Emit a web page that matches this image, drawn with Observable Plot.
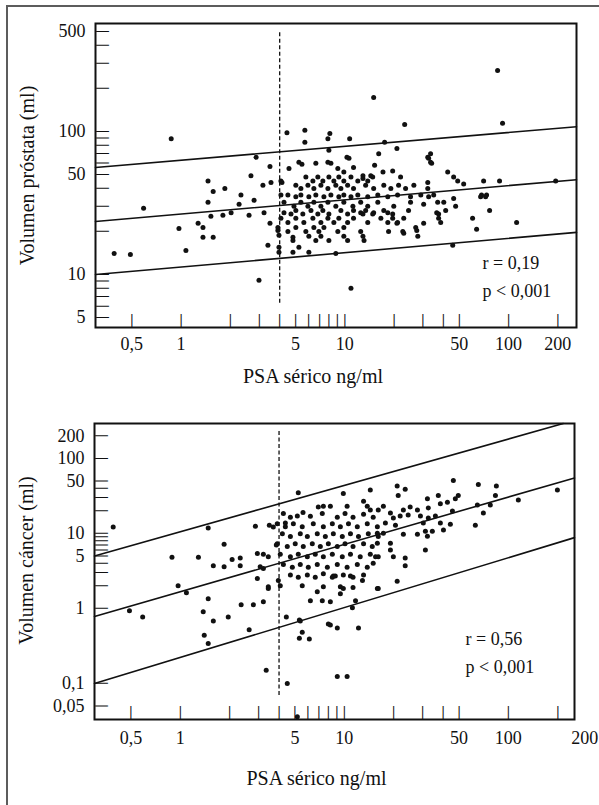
<!DOCTYPE html>
<html><head><meta charset="utf-8">
<script src="https://cdn.jsdelivr.net/npm/d3@7"></script>
<script src="https://cdn.jsdelivr.net/npm/@observablehq/plot@0.6"></script>
<style>
body{margin:0;background:#fff;}
#wrap{position:relative;width:599px;height:805px;overflow:hidden;font-family:"Liberation Serif","DejaVu Serif",serif;}
#wrap svg{position:absolute;left:0;}
#border{position:absolute;left:6px;top:5px;right:-10px;bottom:-10px;border-left:2px solid #5c5c5c;border-top:2px solid #5c5c5c;pointer-events:none;}
</style></head><body><div id="wrap"><div id="border"></div></div>
<script>
// ---------- shared x axis (PSA) ----------
const psaMinor = [0.5, 1, 2, 3, 4, 5, 6, 7, 8, 9, 10, 20, 30, 40, 50, 100, 200];
const psaLabelsTop = [0.5, 1, 5, 10, 50, 100, 200];
const psaLabelsBottom = [0.5, 1, 5, 10, 50, 100];
const psaLabelShifted = [200];
const psaCutoff = 4;
const xTitle = "PSA sérico ng/ml";

// ---------- top panel: prostate volume ----------
const prostMinor = [5, 6, 7, 8, 9, 10, 20, 30, 40, 50, 60, 70, 80, 90, 100, 200, 300, 400, 500];
const prostLabels = [5, 10, 50, 100, 500];
const prostTitle = "Volumen próstata (ml)";
const prostStats = ["r = 0,19\np < 0,001"];
const prostCutoffRange = [6.3, 500];
const prostFit = [
  {band: "sup", psa: 0.3, vol: 56}, {band: "sup", psa: 260, vol: 108},
  {band: "mid", psa: 0.3, vol: 23.5}, {band: "mid", psa: 260, vol: 46},
  {band: "inf", psa: 0.3, vol: 10}, {band: "inf", psa: 260, vol: 19.7}
];
const prostPoints = [
  [0.87,89],[4.43,98],[2.87,66],[3.49,57],[2.67,49],[1.46,45],[1.57,38],[1.85,40],[2.32,36],[4.56,55],[4.13,44],[3.54,44],[3.16,42],
  [85.7,267],[15.0,173],[23.2,112],[91.9,114],[5.70,102],[5.70,84],[8.10,97],[7.88,89],[10.7,89],[7.99,74],[16.1,70],[20.8,76],[17.5,84],
  [33.4,70],[32.5,65],[33.9,60],[42.5,52],[46.2,48],[48.9,45],[53.2,43],[70.4,45],[88.1,45],[194,45],[32.1,44],[68.4,36],[73.4,36],[46.2,34],
  [60.3,24.7],[63.8,20.7],[76.6,28],[112,23.1],[67.5,35],[72.4,35],[45.6,16.0],[10.9,8.0],[8.81,14.0],[30.3,22.8],[30.3,31],[36.4,27],
  [41.3,28],[40.2,32],[24.5,28],[22.9,24.7],[27.5,20.3],[27.9,18.5],[22.9,19.4],[18.5,20.0],[20.8,22.8],[12.5,27],[13.1,17.3],[18.3,27],[15.0,27],
  [0.39,14.0],[0.49,13.8],[0.59,29],[0.97,21.0],[1.07,14.7],[1.27,22.8],[1.36,21.3],[1.36,18.2],[1.57,18.2],[1.46,32],[1.52,25.5],[1.80,26],
  [2.02,27],[2.26,31],[2.60,26],[2.99,9.1],[3.39,16.0],[3.49,22.8],[3.96,15.5],[2.79,33],[3.21,27],[4.82,14.3],[3.90,20.3],[3.96,18.8],[4.82,18.2],[4.25,27],
  [4.07,45],[4.07,36],[4.49,36],[5.24,61],[5.47,59],[6.65,60],[7.88,61],[8.22,60],[10.3,66],[10.6,65],[9.06,55],[11.3,56],[9.86,52],[12.9,49],
  [14.4,49],[15.2,58],[17.1,52],[19.6,53],[21.9,48],[32.1,66],[33.4,61],
  [5.78,48],[6.38,45],[6.84,48],[7.34,45],[7.99,48],[8.57,45],[9.19,48],[9.86,45],[10.9,48],[12.0,45],[12.9,47],[13.8,45],[14.8,48],
  [5.02,42],[5.39,40],[5.95,42],[6.47,40],[7.14,42],[7.88,40],[8.81,42],[9.46,40],[10.4,42],[11.3,40],[13.4,42],[15.0,40],[17.3,42],[19.1,40],[21.3,42],[23.5,40],[26.4,42],[32.1,40],
  [5.02,35],[5.39,36],[6.03,35],[6.65,36],[7.45,35],[8.22,36],[9.19,35],[9.86,36],[10.9,35],[12.0,36],[13.8,35],[15.9,36],[18.3,35],[21.0,36],[25.2,35],[29.1,36],[32.5,35],[34.9,36],
  [4.25,32],[4.89,30],[5.39,32],[5.95,30],[6.47,32],[7.14,30],[7.88,32],[8.81,30],[9.86,32],[11.2,30],[12.5,32],[13.8,30],[15.9,32],[19.9,30],[25.2,32],[36.9,32],[47.5,30],
  [4.69,26.5],[5.02,28],[5.54,26.5],[6.21,28],[6.84,26.5],[7.34,28],[7.99,26.5],[9.46,28],[10.4,26.5],[11.3,28],[12.9,26.5],[13.4,28],[14.8,26.5],[17.3,28],[19.6,26.5],[37.4,26.5],
  [4.07,24.7],[4.49,23.1],[5.02,24.7],[5.62,23.1],[6.38,24.7],[7.14,23.1],[7.88,24.7],[8.57,23.1],[9.19,24.7],[10.4,23.1],[11.3,24.7],[13.8,23.1],[16.6,24.7],[18.3,23.1],[19.6,24.7],[21.0,23.1],[37.4,24.7],[38.5,23.1],
  [3.90,21.3],[4.49,20],[5.02,21.3],[5.78,20],[6.47,21.3],[6.94,20],[7.45,21.3],[9.06,20],[9.86,21.3],[12.5,20],[22.6,20],[27.1,21.3],
  [4.82,17.3],[6.03,18.5],[6.65,17.3],[7.14,18.5],[7.99,17.3],[9.86,18.5],[10.4,17.3],[12.9,18.5],
  [3.96,14.3],[5.24,15.5],[6.03,14.3]
];

// ---------- bottom panel: cancer volume ----------
const cancerMinor = [0.05, 0.1, 1, 2, 3, 4, 5, 6, 7, 8, 9, 10, 20, 30, 40, 50, 100, 200];
const cancerLabels = [0.05, 0.1, 1, 5, 10, 50, 100, 200];
const cancerTitle = "Volumen cáncer (ml)";
const cancerStats = ["r = 0,56\np < 0,001"];
const cancerCutoffRange = [0.069, 236];
const cancerFit = [
  {band: "sup", psa: 0.3, vol: 5}, {band: "sup", psa: 216, vol: 293},
  {band: "mid", psa: 0.3, vol: 0.78}, {band: "mid", psa: 253, vol: 55},
  {band: "inf", psa: 0.3, vol: 0.1}, {band: "inf", psa: 253, vol: 8.8}
];
const cancerPoints = [
  [0.39,12.2],[0.89,4.8],[1.29,4.8],[1.48,11.8],[1.85,7.2],[2.87,12.5],[3.49,12.9],[3.69,12.2],[1.59,3.7],[1.85,3.6],[2.07,4.5],[2.32,4.7],
  [2.32,3.7],[2.95,5.4],[3.21,5.3],[3.44,4.9],[3.21,3.4],[3.85,7.0],[5.24,35],
  [0.49,0.93],[0.59,0.77],[0.97,2.0],[1.09,1.62],[1.48,1.35],[1.38,0.90],[1.59,0.68],[1.40,0.44],[1.48,0.34],[1.96,0.77],[2.35,1.12],[2.79,1.12],
  [3.21,1.23],[2.63,0.52],[3.34,0.15],[4.49,0.10],[4.43,0.77],[2.95,2.5],[3.44,1.95],[3.07,3.6],
  [9.86,34],[14.4,38],[5.17,17.1],[6.94,22.6],[7.45,23],[8.22,23],[10.4,23],[13.1,27],[13.8,23],[4.37,13.8],[3.44,1.84],[9.06,0.124],[10.4,0.124],
  [5.32,0.70],[5.54,0.48],[5.32,0.40],[6.12,0.39],[8.22,0.60],[9.06,0.55],[12.2,0.55],[6.21,1.27],[7.34,1.27],[8.22,1.23],[9.46,1.95],[11.3,1.9],
  [6.84,1.67],[11.7,1.27],[11.2,1.02],[12.9,2.35],[15.9,1.84],[8.81,2.7],[5.54,2.0],[7.45,1.95],[4.07,2.0],[3.96,2.35],
  [46.2,51],[65.6,45],[84.5,43],[199,38],[21.0,43],[23.5,39],[21.3,32],[37.4,32],[32.1,29],[49.5,32],[47.5,29],[83.4,32],[115,28],[42.5,26],
  [38.5,25],[25.2,22.6],[22.9,20.6],[27.9,20.6],[32.5,21.9],[64.7,24],[77.6,24],[17.3,23],[16.1,20.6],[14.4,20.6],[19.1,18.8],[19.9,16.1],
  [21.9,17.1],[24.5,17.6],[29.1,17.1],[32.5,16.1],[35.9,17.1],[45.6,20],[70.4,18.8],[17.8,13.8],[20.5,12.9],[30.3,13.8],[38.5,13.8],[44.3,13.3],
  [62.9,12.9],[17.3,10.1],[15.9,10.1],[22.9,9.8],[27.9,9.8],[31.2,10.7],[34.4,10.7],[40.2,11.1],[32.1,9.2],[19.1,7.4],[31.2,6.0],[15.9,7.4],
  [19.1,6.0],[19.9,4.9],[23.5,4.7],[23.5,3.7],[21.0,2.3],[16.1,1.84],[15.5,4.9],[15.0,4.0],
  [9.86,1.84],[10.9,2.7],[7.45,2.9],[8.57,2.7],[9.46,1.57],[7.99,0.62],[5.39,0.68],[5.17,0.036],
  [4.25,18.5],[4.69,16.5],[5.6,19],[6.21,17],[7.34,18.5],[9.06,16.5],[10.1,18.5],[11.3,16.5],[13.1,18],[15.0,16.5],
  [3.90,13.5],[4.37,12.3],[4.89,13.5],[5.54,12.3],[6.47,13.5],[7.45,12.3],[8.45,13.5],[9.46,12.3],[10.6,13.5],[12.0,12.3],[13.8,13.5],[15.9,12.3],
  [4.19,9.9],[4.69,9.1],[5.39,9.9],[5.95,9.1],[6.84,9.9],[7.66,9.1],[8.57,9.9],[9.72,9.1],[10.9,9.9],[12.2,9.1],[14.0,9.9],[16.1,9.1],
  [3.90,7.3],[4.49,6.7],[5.02,7.3],[5.62,6.7],[6.38,7.3],[7.14,6.7],[7.99,7.3],[9.06,6.7],[10.1,7.3],[11.3,6.7],[13.1,7.3],[14.8,6.7],
  [4.07,5.3],[4.69,4.9],[5.24,5.3],[5.95,4.9],[6.65,5.3],[7.45,4.9],[8.45,5.3],[9.72,4.9],[10.9,5.3],[12.5,4.9],[14.4,5.3],[16.1,4.9],
  [4.25,3.85],[4.82,3.55],[5.39,3.85],[6.03,3.55],[6.84,3.85],[7.88,3.55],[9.06,3.85],[10.4,3.55],[12.0,3.85],[13.8,3.55],
  [4.69,2.8],[5.24,2.6],[5.95,2.8],[6.65,2.6],[8.45,2.6],[9.86,2.8],[11.3,2.6],[13.1,2.8]
];

const fmt = d => String(d).replace(".", ",");
const FONT = "'Liberation Serif', 'DejaVu Serif', serif";
const INK = "#111";
// inward tick marks are drawn as a bar glyph (about 13 px tall at this size)
const TICK_GLYPH = "|";
const TICK_SIZE = 14.5;

function panel(o) {
  const marks = [
    Plot.ruleX([psaCutoff], {y1: o.cut[0], y2: o.cut[1], stroke: INK, strokeWidth: 1.3, strokeDasharray: "4,2.5"}),
    Plot.line(o.fit, {x: "psa", y: "vol", z: "band", stroke: INK, strokeWidth: 1.6}),
    Plot.dot(o.points, {x: d => d[0], y: d => d[1], r: 2.5, fill: INK}),
    Plot.frame({stroke: INK, strokeWidth: 2}),
    // inward ticks on the bottom edge (upright bars) and left edge (bars turned sideways)
    Plot.text(psaMinor, {x: d => d, frameAnchor: "bottom", text: () => TICK_GLYPH, textAnchor: "middle", lineAnchor: "middle",
      dy: -7.7, fontSize: TICK_SIZE, fontWeight: "bold", fill: INK}),
    Plot.text(o.minor, {y: d => d, frameAnchor: "left", text: () => TICK_GLYPH, rotate: 90, textAnchor: "middle", lineAnchor: "middle",
      dx: 7.7, fontSize: TICK_SIZE, fontWeight: "bold", fill: INK}),
    Plot.axisX({ticks: o.xLabels, tickSize: 0, tickPadding: o.xPad, text: fmt, fontSize: 18, fill: INK, label: null}),
    Plot.axisY({ticks: o.yLabels, tickSize: 0, tickPadding: 10, text: fmt, fontSize: 18, fill: INK, label: null}),
    Plot.text([xTitle], {frameAnchor: "bottom", textAnchor: "middle", lineAnchor: "middle", dy: o.xtDy, dx: o.xtDx, fontSize: 20, fill: INK}),
    Plot.text([o.yTitle], {frameAnchor: "left", textAnchor: "middle", lineAnchor: "middle", rotate: -90, dx: -68, dy: o.ytDy, fontSize: 20, fill: INK}),
    Plot.text(o.stats, {frameAnchor: "bottom-right", textAnchor: "start", lineAnchor: "middle", dx: o.sDx, dy: o.sDy, fontSize: 18, lineHeight: 1.55, fill: INK})
  ];
  if (o.extra) marks.push(Plot.text(o.extra, {x: d => d, frameAnchor: "bottom", textAnchor: "middle", lineAnchor: "top", dy: o.xPad, dx: 27, fontSize: 18, fill: INK, text: d => fmt(d)}));
  const svg = Plot.plot({
    width: 599, height: o.height,
    marginTop: o.mt, marginRight: o.mr, marginBottom: o.mb, marginLeft: o.ml,
    style: {fontFamily: FONT, background: "transparent", color: INK, overflow: "visible"},
    x: {type: "log", domain: o.xDomain},
    y: {type: "log", domain: o.yDomain},
    marks
  });
  svg.style.top = o.top + "px";
  return svg;
}

const wrap = document.getElementById("wrap");
wrap.insertBefore(panel({
  top: 0, height: 385, mt: 23, mr: 23, mb: 58, ml: 95,
  xDomain: [0.3, 260], yDomain: [4.26, 569],
  points: prostPoints, fit: prostFit, cut: prostCutoffRange,
  xLabels: psaLabelsTop, xPad: 10, minor: prostMinor, yLabels: prostLabels,
  yTitle: prostTitle, ytDy: 0, xtDy: 49, xtDx: -23,
  stats: prostStats, sDx: -94, sDy: -53
}), wrap.firstChild);
wrap.insertBefore(panel({
  top: 395, height: 410, mt: 28, mr: 25, mb: 86, ml: 94,
  xDomain: [0.3, 253], yDomain: [0.033, 293],
  points: cancerPoints, fit: cancerFit, cut: cancerCutoffRange,
  xLabels: psaLabelsBottom, xPad: 12, minor: cancerMinor, yLabels: cancerLabels,
  yTitle: cancerTitle, ytDy: -11, xtDy: 59, xtDx: -18,
  stats: cancerStats, sDx: -109, sDy: -69, extra: psaLabelShifted
}), wrap.firstChild);
</script></body></html>
